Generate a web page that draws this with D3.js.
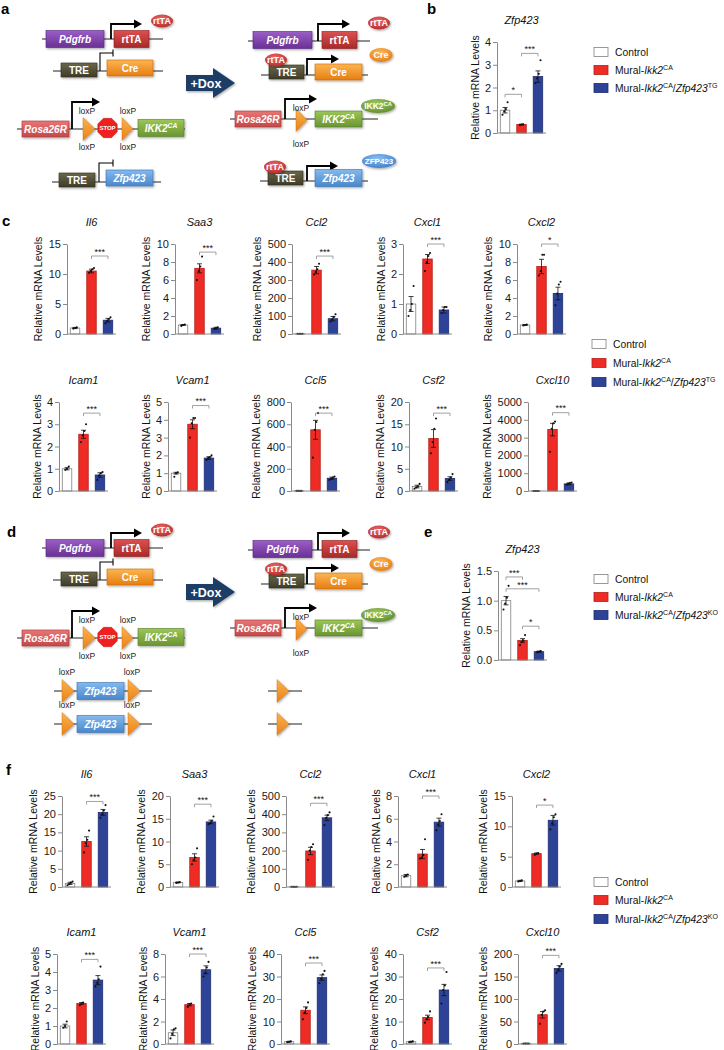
<!DOCTYPE html>
<html><head><meta charset="utf-8">
<script src="https://cdn.jsdelivr.net/npm/d3@7"></script>
<style>
body{margin:0;background:#fff;}
svg{display:block;font-family:"Liberation Sans",Arial,Helvetica,sans-serif;}
</style></head><body>
<svg id="fig" width="724" height="1050"></svg>
<script>
// ================= DATA =================
const groupColorsFill = ["#ffffff", "#ee2b24", "#2d4397"];
const groupColorsStroke = ["#808080", "#b51f1a", "#1d2c70"];

// panel b
const bGene = "Zfp423";
const bTicks = [0, 1, 2, 3, 4];
const bMeans = [1.0, 0.37, 2.48];
const bErrs = [0.12, 0.02, 0.25];
const bDots = [[0.8, 0.95, 1.05, 1.35], [0.35, 0.37, 0.38], [2.2, 2.4, 2.6, 3.2]];
const bSig = [[0, 1, "*", 1.7], [1, 2, "***", 3.5]];

// panel c
const cGenes = ["Il6", "Saa3", "Ccl2", "Cxcl1", "Cxcl2", "Icam1", "Vcam1", "Ccl5", "Csf2", "Cxcl10"];
const cTicks = [[0,5,10,15],[0,2,4,6,8,10],[0,100,200,300,400,500],[0,1,2,3],[0,2,4,6,8,10],
                [0,1,2,3,4],[0,1,2,3,4,5],[0,200,400,600,800],[0,5,10,15,20],[0,1000,2000,3000,4000,5000]];
const cMeans = [[1.0,10.5,2.3],[1.0,7.3,0.65],[1.0,355,85],[1.0,2.5,0.8],[1.0,7.5,4.5],
                [1.0,2.55,0.72],[1.0,3.75,1.85],[1.0,550,115],[1.0,11.8,2.8],[1.0,3450,400]];
const cErrs = [[0.1,0.3,0.3],[0.05,0.5,0.1],[0.1,20,12],[0.25,0.15,0.1],[0.05,0.8,0.7],
               [0.05,0.18,0.1],[0.05,0.25,0.08],[0.1,85,10],[0.3,2.0,0.4],[0.1,350,50]];
const cDots = [
  [[0.9,1.0,1.1],[10.2,10.5,10.8,11.0],[1.8,2.2,2.5,2.8]],
  [[0.9,1.0,1.05],[6.0,7.0,7.5,8.6],[0.55,0.65,0.75]],
  [[1,1,1,1],[330,345,360,390],[70,80,95,110]],
  [[0.6,0.8,1.0,1.6],[2.1,2.4,2.6,2.7],[0.7,0.8,0.9,0.9]],
  [[0.95,1.0,1.05],[6.5,7.0,8.8,8.8],[3.2,4.5,5.5,5.8]],
  [[0.95,1.0,1.1],[2.2,2.5,2.7,3.0],[0.5,0.7,0.8,0.85]],
  [[0.8,1.0,1.05],[3.0,3.8,4.1,4.1],[1.75,1.85,1.9,2.0]],
  [[1,1,1,1],[300,550,620,700],[100,110,120,130]],
  [[0.5,0.8,1.0,1.6],[8.5,11,14,16.3],[2.0,2.5,3.0,3.8]],
  [[1,1,1,1],[2200,3500,3800,3900],[350,400,450,480]]
];
const cSig = [[1,2,"***",13],[1,2,"***",9.1],[1,2,"***",433],[1,2,"***",3.0],[1,2,"*",10],
              [1,2,"***",3.5],[1,2,"***",4.8],[1,2,"***",700],[1,2,"***",17.5],[1,2,"***",4400]];

// panel e
const eGene = "Zfp423";
const eTicks = [0, 0.5, 1.0, 1.5];
const eMeans = [1.0, 0.33, 0.14];
const eErrs = [0.07, 0.03, 0.01];
const eDots = [[0.85, 0.95, 1.05, 1.25], [0.25, 0.3, 0.33, 0.42], [0.13, 0.14, 0.15]];
const eSig = [[0, 1, "***", 1.4], [0, 2, "***", 1.2], [1, 2, "*", 0.57]];

// panel f
const fGenes = ["Il6", "Saa3", "Ccl2", "Cxcl1", "Cxcl2", "Icam1", "Vcam1", "Ccl5", "Csf2", "Cxcl10"];
const fTicks = [[0,5,10,15,20,25],[0,5,10,15,20],[0,100,200,300,400,500],[0,2,4,6,8],[0,5,10,15],
                [0,1,2,3,4,5],[0,2,4,6,8],[0,10,20,30,40],[0,10,20,30,40],[0,50,100,150,200]];
const fMeans = [[1.0,12.5,20.5],[1.0,6.5,14.3],[1.0,198,380],[1.0,2.9,5.7],[1.0,5.5,11.0],
                [1.0,2.25,3.55],[1.0,3.5,6.6],[1.0,15,29.5],[1.0,11.8,24],[1.0,65,168]];
const fErrs = [[0.3,1.3,0.8],[0.1,0.8,0.4],[0.2,20,15],[0.1,0.4,0.35],[0.1,0.1,0.8],
               [0.1,0.05,0.25],[0.25,0.1,0.35],[0.2,1.5,1.2],[0.2,1.0,2.5],[0.3,7,6]];
const fDots = [
  [[0.5,0.8,1.2,1.5],[9.5,12,13,15.5],[19,20,21,22.5]],
  [[0.9,1.0,1.1],[5,6,6.5,8.5],[13.8,14,14.5,15.5]],
  [[1,1,1,1],[150,200,220,235],[340,380,395,410]],
  [[0.9,1.0,1.1],[2.5,2.6,2.8,4.2],[5.0,5.5,5.8,6.4]],
  [[0.9,1.0,1.1],[5.3,5.5,5.6],[9.5,10.5,11.5,12]],
  [[0.9,1.0,1.25],[2.15,2.25,2.3],[3.2,3.4,3.6,4.3]],
  [[0.5,0.9,1.3,1.4],[3.3,3.5,3.6],[6.0,6.3,6.8,7.3]],
  [[0.8,1.0,1.2],[11,14,16,18.5],[27,29,31,32.5]],
  [[0.8,1.0,1.2],[9.5,11,12,14.5],[18,24,26,32]],
  [[1,1,1,1],[45,65,72,75],[158,165,172,178]]
];
const fSig = [[1,2,"***",23.5],[1,2,"***",18.2],[1,2,"***",460],[1,2,"***",8],[1,2,"*",13.5],
              [1,2,"***",4.7],[1,2,"***",8],[1,2,"***",36],[1,2,"***",33.8],[1,2,"***",197]];

// legend labels (text parts: [string, style]; i = italic, s = superscript)
const legendTG = [[["Control"]], [["Mural-"],["Ikk2","i"],["CA","s"]], [["Mural-"],["Ikk2","i"],["CA","s"],["/"],["Zfp423","i"],["TG","s"]]];
const legendKO = [[["Control"]], [["Mural-"],["Ikk2","i"],["CA","s"]], [["Mural-"],["Ikk2","i"],["CA","s"],["/"],["Zfp423","i"],["KO","s"]]];

// ================= LAYOUT =================
const cAxisX = [67,175,292,403,517, 59,168,291,409,528];
const fAxisX = [62,170,286,398,512, 57,165,281,403,518];
const cRows = [{top:244, zero:334}, {top:402, zero:491}];
const fRows = [{top:796, zero:887}, {top:954, zero:1044}];

const svg = d3.select("#fig");
const defs = svg.append("defs");
const FONT_TICK = 11, FONT_YL = 10.5, FONT_TITLE = 11, FONT_LEG = 10.3;

// rich text helper
function rich(t, parts, fs) {
  let shifted = false;
  parts.forEach(p => {
    const s = p[0], st = p[1] || "";
    const ts = t.append("tspan").text(s);
    if (st.includes("i")) ts.attr("font-style", "italic");
    if (st.includes("s")) {
      ts.attr("font-size", (fs * 0.68).toFixed(2));
      if (!shifted) { ts.attr("dy", -fs * 0.38); shifted = true; }
    } else if (shifted) { ts.attr("dy", fs * 0.38); shifted = false; }
  });
  return t;
}

// ---------- bar chart ----------
function barChart(cfg) {
  const g = svg.append("g");
  const y = d3.scaleLinear().domain([0, d3.max(cfg.ticks)]).range([cfg.zero, cfg.top]);
  const x = d3.scaleBand().domain([0, 1, 2]).range([cfg.ax, cfg.ax + 49]).paddingInner(0.424).paddingOuter(0.2);
  const cx = i => x(i) + x.bandwidth() / 2;

  g.selectAll("rect.bar").data(cfg.means).join("rect").attr("class", "bar")
    .attr("x", (d, i) => x(i)).attr("width", x.bandwidth())
    .attr("y", d => y(d)).attr("height", d => Math.max(0, cfg.zero - y(d)))
    .attr("fill", (d, i) => groupColorsFill[i]).attr("stroke", (d, i) => groupColorsStroke[i]).attr("stroke-width", 0.8);

  // error bars
  const eb = g.append("g").attr("stroke", "#111").attr("stroke-width", 0.8);
  cfg.means.forEach((m, i) => {
    const e = cfg.errs[i], c = cx(i);
    eb.append("line").attr("x1", c).attr("x2", c).attr("y1", y(Math.max(0, m - e))).attr("y2", y(m + e));
    eb.append("line").attr("x1", c - 2.5).attr("x2", c + 2.5).attr("y1", y(m + e)).attr("y2", y(m + e));
    if (m - e > 0) eb.append("line").attr("x1", c - 2.5).attr("x2", c + 2.5).attr("y1", y(m - e)).attr("y2", y(m - e));
  });
  // dots
  cfg.dots.forEach((arr, i) => {
    g.selectAll(null).data(arr).join("circle")
      .attr("cx", (d, k) => cx(i) + (k - (arr.length - 1) / 2) * 1.7)
      .attr("cy", d => y(d)).attr("r", 1.05).attr("fill", "#111");
  });
  // y axis
  const fmt = cfg.fmt || d3.format("d");
  const axg = g.append("g").attr("transform", `translate(${cfg.ax},0)`)
    .call(d3.axisLeft(y).tickValues(cfg.ticks).tickSize(4).tickSizeOuter(0).tickPadding(2).tickFormat(fmt));
  axg.select(".domain").attr("stroke", "#8a8a8a").attr("stroke-width", 1);
  axg.selectAll(".tick line").attr("stroke", "#8a8a8a");
  axg.selectAll(".tick text").attr("fill", "#1a1a1a").attr("font-size", FONT_TICK)
     .attr("font-family", '"Liberation Sans",Arial,sans-serif');
  // x axis line
  g.append("line").attr("x1", cfg.ax).attr("x2", cfg.ax + 49).attr("y1", cfg.zero).attr("y2", cfg.zero)
    .attr("stroke", "#8a8a8a").attr("stroke-width", 1);
  // significance
  cfg.sig.forEach(([a, b, lab, v]) => {
    const yy = y(v);
    g.append("path").attr("d", `M${cx(a)},${yy + 3}V${yy}H${cx(b)}V${yy + 3}`)
      .attr("fill", "none").attr("stroke", "#8a8a8a").attr("stroke-width", 0.8);
    g.append("text").attr("x", (cx(a) + cx(b)) / 2).attr("y", yy - 1.2).attr("text-anchor", "middle")
      .attr("font-size", 9).attr("fill", "#111").text(lab);
  });
  // title
  g.append("text").attr("x", cfg.ax + 24.5).attr("y", cfg.top - 18).attr("text-anchor", "middle")
    .attr("font-size", FONT_TITLE).attr("font-style", "italic").attr("fill", "#111").text(cfg.title);
  // y label
  const bb = axg.node().getBBox();
  const xl = cfg.ax + bb.x - (cfg.ylGap || 10);
  g.append("text").attr("transform", `translate(${xl},${(cfg.top + cfg.zero) / 2}) rotate(-90)`)
    .attr("dy", "0.35em").attr("text-anchor", "middle").attr("font-size", FONT_YL).attr("fill", "#111")
    .text("Relative mRNA Levels");
}

function legend(x, ys, labels) {
  const g = svg.append("g");
  labels.forEach((parts, i) => {
    g.append("rect").attr("x", x).attr("y", ys[i] - 4.5).attr("width", 14).attr("height", 9)
      .attr("fill", groupColorsFill[i]).attr("stroke", groupColorsStroke[i]).attr("stroke-width", 0.8);
    rich(g.append("text").attr("x", x + 21).attr("y", ys[i] + 4).attr("font-size", FONT_LEG).attr("fill", "#111"), parts, FONT_LEG);
  });
}

// ---------- schematic ----------
const boxPal = {
  purple: ["#9b5ec6", "#6a3194", "#55267a"], red: ["#dc5050", "#a82a2a", "#8a2020"],
  olive: ["#6b674b", "#3e3c28", "#2f2d1e"], orange: ["#fcb550", "#e67d12", "#c96a0c"],
  rose: ["#e87676", "#c44848", "#a63a3a"], green: ["#9cc656", "#6a9533", "#587c29"],
  blue: ["#83b9ee", "#4a88cc", "#3a72b0"], lox: ["#fbb24c", "#e98218", "#d0700e"]
};
Object.entries(boxPal).forEach(([k, c]) => {
  const lg = defs.append("linearGradient").attr("id", "g_" + k).attr("x1", 0).attr("y1", 0).attr("x2", 0).attr("y2", 1);
  lg.append("stop").attr("offset", "0%").attr("stop-color", c[0]);
  lg.append("stop").attr("offset", "100%").attr("stop-color", c[1]);
});
const ellPal = { rt: ["#ee6a6a", "#b22828"], cre: ["#fdbb5c", "#e57a10"], ikk: ["#a2cc60", "#5f8a2c"], zfp: ["#8cc2f4", "#3c7cc8"] };
Object.entries(ellPal).forEach(([k, c]) => {
  const rg = defs.append("radialGradient").attr("id", "e_" + k).attr("cx", "45%").attr("cy", "35%").attr("r", "70%");
  rg.append("stop").attr("offset", "0%").attr("stop-color", c[0]);
  rg.append("stop").attr("offset", "100%").attr("stop-color", c[1]);
});
const flt = defs.append("filter").attr("id", "sh").attr("x", "-20%").attr("y", "-30%").attr("width", "150%").attr("height", "170%");
flt.append("feDropShadow").attr("dx", 1).attr("dy", 1.2).attr("stdDeviation", 0.8).attr("flood-color", "#000").attr("flood-opacity", 0.35);

function sLine(g, x1, x2, yy) {
  g.append("line").attr("x1", x1).attr("x2", x2).attr("y1", yy).attr("y2", yy).attr("stroke", "#222").attr("stroke-width", 1.2);
}
function sBox(g, x0, x1, yc, h, key, parts) {
  g.append("rect").attr("x", x0).attr("y", yc - h / 2).attr("width", x1 - x0).attr("height", h)
    .attr("fill", `url(#g_${key})`).attr("stroke", boxPal[key][2]).attr("stroke-width", 0.6).attr("filter", "url(#sh)");
  rich(g.append("text").attr("x", (x0 + x1) / 2).attr("y", yc + 3.6).attr("text-anchor", "middle")
    .attr("font-size", 10).attr("font-weight", "bold").attr("fill", "#fff"), parts, 10);
}
function sProm(g, x, yb, yt, xe, active) {
  if (active) {
    g.append("path").attr("d", `M${x},${yb}V${yt}H${xe - 7}`).attr("fill", "none").attr("stroke", "#000").attr("stroke-width", 1.8);
    g.append("path").attr("d", `M${xe - 8},${yt - 4.5}L${xe},${yt}L${xe - 8},${yt + 4.5}Z`).attr("fill", "#000");
  } else {
    g.append("path").attr("d", `M${x},${yb}V${yt}H${xe}`).attr("fill", "none").attr("stroke", "#000").attr("stroke-width", 1.1);
    g.append("line").attr("x1", xe).attr("x2", xe).attr("y1", yt - 3.5).attr("y2", yt + 3.5).attr("stroke", "#000").attr("stroke-width", 1.1);
  }
}
function sLox(g, x0, x1, yc) {
  g.append("path").attr("d", `M${x0},${yc - 11.5}L${x1},${yc}L${x0},${yc + 11.5}Z`)
    .attr("fill", "url(#g_lox)").attr("stroke", "#c96a0c").attr("stroke-width", 0.4).attr("filter", "url(#sh)");
}
function sStop(g, cx, cy) {
  const r = 10.5;
  const pts = d3.range(8).map(k => { const a = Math.PI / 8 + k * Math.PI / 4; return [cx + r * Math.cos(a), cy + r * Math.sin(a)]; });
  g.append("polygon").attr("points", pts.map(p => p.join(",")).join(" ")).attr("fill", "#ee2020").attr("stroke", "#c01010").attr("stroke-width", 0.5);
  g.append("text").attr("x", cx).attr("y", cy + 2.2).attr("text-anchor", "middle").attr("font-size", 6).attr("font-weight", "bold").attr("fill", "#fff").text("STOP");
}
function sEll(g, cx, cy, rx, ry, key, parts, fs) {
  fs = fs || 9;
  g.append("ellipse").attr("cx", cx).attr("cy", cy).attr("rx", rx).attr("ry", ry).attr("fill", `url(#e_${key})`).attr("filter", "url(#sh)");
  rich(g.append("text").attr("x", cx).attr("y", cy + fs * 0.36).attr("text-anchor", "middle")
    .attr("font-size", fs).attr("font-weight", "bold").attr("fill", "#fff"), parts, fs);
}
function sLbl(g, x, yy, s) {
  g.append("text").attr("x", x).attr("y", yy).attr("text-anchor", "middle").attr("font-size", 8.5).attr("fill", "#222").text(s);
}
function doxArrow(g) {
  g.append("path").attr("d", "M186,75H213V68L235,83L213,98V91H186Z").attr("fill", "#1f3e66").attr("filter", "url(#sh)");
  g.append("text").attr("x", 206).attr("y", 87.5).attr("text-anchor", "middle").attr("font-size", 12.5)
    .attr("font-weight", "bold").attr("fill", "#fff").text("+Dox");
}
function commonRows(g) {
  // left column
  sLine(g, 42, 163, 39); sProm(g, 111, 39, 24, 142, true);
  sBox(g, 46, 104, 39, 17, "purple", [["Pdgfrb", "i"]]); sBox(g, 114, 149, 39, 17, "red", [["rtTA"]]);
  sEll(g, 162, 21, 11, 6.5, "rt", [["rtTA"]]);
  sLine(g, 53, 163, 71); sProm(g, 100, 71, 53, 113, false);
  sBox(g, 61, 97, 70, 14, "olive", [["TRE"]]); sBox(g, 107, 153, 68, 16, "orange", [["Cre"]]);
  sLine(g, 17, 185, 129); sProm(g, 72, 129, 102, 100, true);
  sBox(g, 22, 69, 129, 16, "rose", [["Rosa26R", "i"]]);
  sLox(g, 83, 95, 129); sStop(g, 107.5, 128); sLox(g, 122, 133, 129);
  sBox(g, 138, 184, 128, 17, "green", [["IKK2", "i"], ["CA", "is"]]);
  sLbl(g, 87, 114, "loxP"); sLbl(g, 128, 114, "loxP"); sLbl(g, 87, 150, "loxP"); sLbl(g, 128, 150, "loxP");
  doxArrow(g);
  // right column
  sLine(g, 248, 370, 41); sProm(g, 318, 41, 24, 350, true);
  sBox(g, 253, 312, 40, 17, "purple", [["Pdgfrb", "i"]]); sBox(g, 322, 357, 40, 17, "red", [["rtTA"]]);
  sEll(g, 379, 23, 11, 6.5, "rt", [["rtTA"]]);
  sLine(g, 261, 368, 75); sProm(g, 307, 75, 59, 339, true);
  sBox(g, 269, 304, 72, 14, "olive", [["TRE"]]); sBox(g, 315, 362, 72, 16, "orange", [["Cre"]]);
  sEll(g, 276, 60, 11, 6.5, "rt", [["rtTA"]]); sEll(g, 381, 55, 11.5, 7, "cre", [["Cre"]]);
  sLine(g, 230, 378, 119); sProm(g, 285, 119, 99, 317, true);
  sBox(g, 235, 281, 119, 16, "rose", [["Rosa26R", "i"]]);
  sLox(g, 296, 307, 120); sBox(g, 315, 362, 119, 16, "green", [["IKK2", "i"], ["CA", "is"]]);
  sEll(g, 378, 106, 17, 7, "ikk", [["IKK2"], ["CA", "s"]], 8.5);
  sLbl(g, 301, 111, "loxP"); sLbl(g, 301, 147, "loxP");
}

// ---- panel a ----
const ga = svg.append("g");
commonRows(ga);
sLine(ga, 52, 161, 182); sProm(ga, 99, 182, 163, 113, false);
sBox(ga, 59, 95, 180, 14, "olive", [["TRE"]]); sBox(ga, 106, 153, 178, 16, "blue", [["Zfp423", "i"]]);
sLine(ga, 260, 368, 181); sProm(ga, 307, 181, 166, 338, true);
sBox(ga, 268, 303, 178, 14, "olive", [["TRE"]]); sBox(ga, 315, 362, 178, 17, "blue", [["Zfp423", "i"]]);
sEll(ga, 275, 167, 11, 6.5, "rt", [["rtTA"]]); sEll(ga, 379, 161, 17, 7, "zfp", [["ZFP423"]], 8);

// ---- panel d ----
const gd = svg.append("g").attr("transform", "translate(0,509)");
commonRows(gd);
[182, 215].forEach((yy, k) => {
  sLine(gd, 54, 152, yy); sLox(gd, 62, 74, yy); sBox(gd, 77, 124, yy, 17, "blue", [["Zfp423", "i"]]); sLox(gd, 128, 140, yy);
  sLbl(gd, 67, yy - 16, "loxP"); sLbl(gd, 132, yy - 16, "loxP");
  sLine(gd, 268, 302, yy); sLox(gd, 277, 289, yy);
});

// ---- charts ----
barChart({ ax: 497, top: 42, zero: 133, ticks: bTicks, means: bMeans, errs: bErrs, dots: bDots, sig: bSig, title: bGene });
legend(594, [52, 70, 88], legendTG);

cGenes.forEach((gname, i) => {
  const r = cRows[Math.floor(i / 5)];
  barChart({ ax: cAxisX[i], top: r.top, zero: r.zero, ticks: cTicks[i], means: cMeans[i], errs: cErrs[i], dots: cDots[i], sig: [cSig[i]], title: gname });
});
legend(592, [344, 363, 382], legendTG);

barChart({ ax: 498, top: 571, zero: 660, ticks: eTicks, means: eMeans, errs: eErrs, dots: eDots, sig: eSig, title: eGene, fmt: d3.format(".1f") });
legend(594, [579, 597, 615], legendKO);

fGenes.forEach((gname, i) => {
  const r = fRows[Math.floor(i / 5)];
  barChart({ ax: fAxisX[i], top: r.top, zero: r.zero, ticks: fTicks[i], means: fMeans[i], errs: fErrs[i], dots: fDots[i], sig: [fSig[i]], title: gname });
});
legend(594, [882, 900, 919], legendKO);

// ---- panel labels ----
[["a", 1, 14], ["b", 427, 14], ["c", 2, 226], ["d", 7, 537], ["e", 424, 537], ["f", 6, 775]].forEach(([t, x, yy]) => {
  svg.append("text").attr("x", x).attr("y", yy).attr("font-size", 15).attr("font-weight", "bold").attr("fill", "#000").text(t);
});
</script>
</body></html>
